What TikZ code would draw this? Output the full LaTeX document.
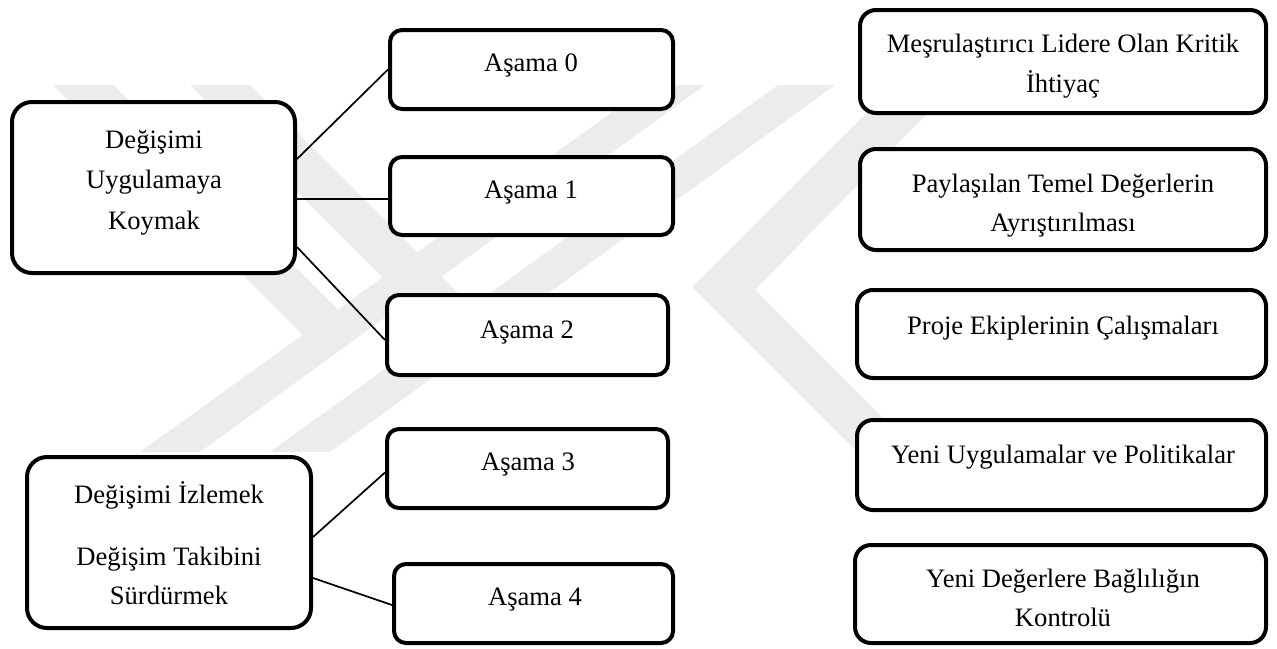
\documentclass[tikz,border=0pt]{standalone}
\usepackage{fontspec}
\setmainfont{Liberation Serif}
\usetikzlibrary{calc}
\definecolor{wmgray}{RGB}{236,236,236}
\begin{document}
\begin{tikzpicture}[x=0.5pt,y=-0.5pt,
  box/.style={draw=black, line width=2pt, fill=white, rounded corners=#1, inner sep=0pt},
  box/.default=6pt,
  lbl/.style={anchor=base, inner sep=0pt, font=\fontsize{13.3}{16}\selectfont},
  link/.style={draw=black, line width=0.85pt}]
\useasboundingbox (0,0) rectangle (1277,648);

% faint background emblem
\fill[wmgray] (53,85) -- (113,85) -- (362,334) -- (327,359) -- cycle;
\fill[wmgray] (650,85) -- (705,85) -- (200,452) -- (140,452) -- cycle;
\fill[wmgray] (190,85) -- (250,85) -- (496,331) -- (461,356) -- cycle;
\fill[wmgray] (778,85) -- (835,85) -- (330,452) -- (270,452) -- cycle;
\fill[wmgray] (895,85) -- (955,85) -- (755,290) -- (917,452) -- (857,452) -- (692,287) -- cycle;

% left column
\node[box=10pt, minimum width=141.5pt, minimum height=85.5pt] (L1) at (153.5,187.5) {};
\node[box=10pt, minimum width=142pt, minimum height=85.5pt] (L2) at (169,542.5) {};

% stage column
\node[box, minimum width=141.5pt, minimum height=39.5pt] (A0) at (531.5,69.5) {};
\node[box, minimum width=141.5pt, minimum height=39pt] (A1) at (531.5,196) {};
\node[box, minimum width=140.5pt, minimum height=40pt] (A2) at (527.5,335) {};
\node[box, minimum width=140.5pt, minimum height=39.5pt] (A3) at (527.5,468.5) {};
\node[box, minimum width=139.5pt, minimum height=39.5pt] (A4) at (533.5,603.5) {};

% right column
\node[box=8pt, minimum width=203pt, minimum height=51.5pt] (R1) at (1063,61.5) {};
\node[box=8pt, minimum width=203pt, minimum height=50.5pt] (R2) at (1063,199.5) {};
\node[box=8pt, minimum width=204.5pt, minimum height=44pt] (R3) at (1061.5,334) {};
\node[box=8pt, minimum width=204.5pt, minimum height=45pt] (R4) at (1061.5,465) {};
\node[box=8pt, minimum width=205.5pt, minimum height=49pt] (R5) at (1060.5,594) {};

% connectors
\draw[link] ($(L1.east)+(0,-28.5)$) -- (A0.west);
\draw[link] ($(L1.east)+(0,11.5)$) -- ($(A1.west)+(0,3)$);
\draw[link] ($(L1.east)+(0,59.5)$) -- ($(A2.west)+(0,5)$);
\draw[link] ($(L2.east)+(0,-5.5)$) -- ($(A3.west)+(0,4)$);
\draw[link] ($(L2.east)+(0,35.5)$) -- ($(A4.west)+(0,1.5)$);

% texts
\node[lbl] (tL1a) at (154,148) {Değişimi};
\node[lbl] (tL1b) at (154,188) {Uygulamaya};
\node[lbl] (tL1c) at (154,229) {Koymak};
\node[lbl] (tL2a) at (169,503) {Değişimi İzlemek};
\node[lbl] (tL2b) at (169,565) {Değişim Takibini};
\node[lbl] (tL2c) at (169,604) {Sürdürmek};

\node[lbl] (tA0) at (531,71) {Aşama 0};
\node[lbl] (tA1) at (531,198) {Aşama 1};
\node[lbl] (tA2) at (527,338) {Aşama 2};
\node[lbl] (tA3) at (528,470) {Aşama 3};
\node[lbl] (tA4) at (535,605) {Aşama 4};

\node[lbl] (tR1a) at (1063,52) {Meşrulaştırıcı Lidere Olan Kritik};
\node[lbl] (tR1b) at (1063,92) {İhtiyaç};
\node[lbl] (tR2a) at (1063,192) {Paylaşılan Temel Değerlerin};
\node[lbl] (tR2b) at (1063,231) {Ayrıştırılması};
\node[lbl] (tR3) at (1063,334) {Proje Ekiplerinin Çalışmaları};
\node[lbl] (tR4) at (1063,463) {Yeni Uygulamalar ve Politikalar};
\node[lbl] (tR5a) at (1063,587) {Yeni Değerlere Bağlılığın};
\node[lbl] (tR5b) at (1063,626) {Kontrolü};
\end{tikzpicture}
\end{document}
